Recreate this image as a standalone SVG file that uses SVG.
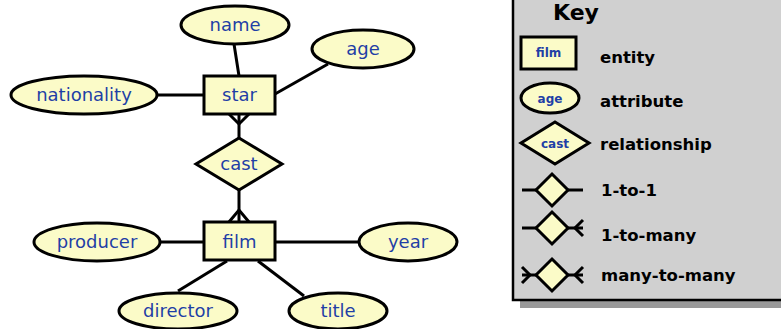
<svg xmlns="http://www.w3.org/2000/svg" width="781" height="329" viewBox="0 0 781 329">
<style>
.sh{fill:#fbfbc8;stroke:#000;stroke-width:3}
.ln{stroke:#000;stroke-width:3;fill:none}
.lb{font-family:"DejaVu Sans",sans-serif;font-size:18px;fill:#1f3fa6;text-anchor:middle}
.kl{font-family:"DejaVu Sans",sans-serif;font-size:12px;font-weight:bold;fill:#1f3fa6;text-anchor:middle}
.kt{font-family:"DejaVu Sans",sans-serif;font-size:16.5px;font-weight:bold;fill:#000}
.kh{font-family:"DejaVu Sans",sans-serif;font-size:22px;font-weight:bold;fill:#000}
</style>
<rect width="781" height="329" fill="#fff"/>
<g id="connectors">
<line class="ln" x1="234" y1="44" x2="239" y2="76"/>
<line class="ln" x1="328" y1="64" x2="275" y2="94"/>
<line class="ln" x1="157" y1="95" x2="204" y2="95"/>
<line class="ln" x1="239" y1="114" x2="239" y2="138"/>
<polyline class="ln" points="229,114 239,124 249,114"/>
<line class="ln" x1="239" y1="190" x2="239" y2="222"/>
<polyline class="ln" points="229,222 239,210 249,222"/>
<line class="ln" x1="161" y1="242" x2="204" y2="242"/>
<line class="ln" x1="275" y1="242" x2="359" y2="242"/>
<line class="ln" x1="227" y1="261" x2="178" y2="291"/>
<line class="ln" x1="258" y1="261" x2="304" y2="296"/>
</g>
<g id="name"><ellipse class="sh" cx="235" cy="25" rx="54" ry="19"/><text class="lb" x="235" y="31">name</text></g>
<g id="age"><ellipse class="sh" cx="363" cy="49" rx="51" ry="19"/><text class="lb" x="363" y="55">age</text></g>
<g id="nationality"><ellipse class="sh" cx="84" cy="95" rx="73" ry="19"/><text class="lb" x="84" y="101">nationality</text></g>
<g id="star"><rect class="sh" x="204" y="76" width="71" height="38"/><text class="lb" x="239.5" y="101">star</text></g>
<g id="cast"><polygon class="sh" points="239,138 282,164 239,190 196,164"/><text class="lb" x="239" y="170">cast</text></g>
<g id="film"><rect class="sh" x="204" y="222" width="71" height="38"/><text class="lb" x="239.5" y="248">film</text></g>
<g id="producer"><ellipse class="sh" cx="97" cy="242" rx="63" ry="19"/><text class="lb" x="97" y="248">producer</text></g>
<g id="year"><ellipse class="sh" cx="408" cy="242" rx="49" ry="19"/><text class="lb" x="408" y="248">year</text></g>
<g id="director"><ellipse class="sh" cx="178" cy="311" rx="59" ry="18"/><text class="lb" x="178" y="317">director</text></g>
<g id="title"><ellipse class="sh" cx="338" cy="311" rx="49" ry="18"/><text class="lb" x="338" y="317">title</text></g>
<g id="key">
<rect x="520" y="-10" width="270" height="318" fill="#999"/>
<rect x="513" y="-12" width="280" height="312" fill="#d0d0d0" stroke="#000" stroke-width="2.5"/>
<text class="kh" x="553" y="20">Key</text>
<rect class="sh" x="521" y="37" width="55" height="32" stroke-width="2.5"/>
<text class="kl" x="548.5" y="57">film</text>
<text class="kt" x="600" y="63">entity</text>
<ellipse class="sh" cx="550" cy="98" rx="29" ry="15" stroke-width="2.5"/>
<text class="kl" x="550" y="103">age</text>
<text class="kt" x="600" y="107">attribute</text>
<polygon class="sh" points="555,122 589,143 555,164 521,143" stroke-width="2.5"/>
<text class="kl" x="555" y="148">cast</text>
<text class="kt" x="600" y="150">relationship</text>
<line class="ln" x1="522" y1="190" x2="583" y2="190" stroke-width="2.5"/>
<polygon class="sh" points="552,174 568,190 552,206 536,190" stroke-width="2.5"/>
<text class="kt" x="601" y="196">1-to-1</text>
<line class="ln" x1="522" y1="228" x2="583" y2="228" stroke-width="2.5"/>
<polyline class="ln" points="583,220 575,228 583,236" stroke-width="2.5"/>
<polygon class="sh" points="552,212 568,228 552,244 536,228" stroke-width="2.5"/>
<text class="kt" x="601" y="241">1-to-many</text>
<line class="ln" x1="522" y1="275" x2="583" y2="275" stroke-width="2.5"/>
<polyline class="ln" points="583,267 575,275 583,283" stroke-width="2.5"/>
<polyline class="ln" points="522,267 530,275 522,283" stroke-width="2.5"/>
<polygon class="sh" points="552,259 568,275 552,291 536,275" stroke-width="2.5"/>
<text class="kt" x="601" y="281">many-to-many</text>
</g>
</svg>
